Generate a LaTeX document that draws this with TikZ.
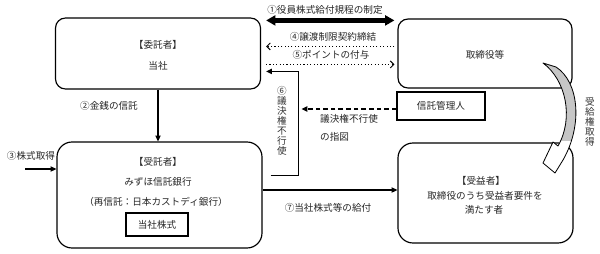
\documentclass[tikz,border=0pt]{standalone}
\usepackage{fontspec}
\setmainfont{Noto Sans CJK JP}
\usetikzlibrary{arrows.meta,calc}
\begin{document}
\begin{tikzpicture}[x=0.03cm,y=-0.03cm,
  box/.style={draw, line width=1pt, rounded corners=0.3cm, inner sep=0},
  sqbox/.style={draw, line width=1pt, inner sep=0},
  txt/.style={font=\fontsize{8.2}{9.5}\selectfont, text=black!85, inner sep=0},
  vtxt/.style={font=\fontsize{8.2}{8.6}\selectfont, text=black!80, inner sep=0, align=center},
  conn/.style={line width=1pt},
  filltip/.style={-{Triangle[length=5pt,width=4.5pt]}},
  opentip/.style={-{Straight Barb[length=3pt,width=6pt,line width=0.8pt]}}
]
\useasboundingbox (0,0) rectangle (600,253);

% boxes
\node[box, minimum width=205*0.03cm, minimum height=71*0.03cm] (wt) at (158,53.5) {};
\node[box, minimum width=174*0.03cm, minimum height=69*0.03cm] (tr) at (485,53.5) {};
\node[sqbox, minimum width=88*0.03cm, minimum height=28*0.03cm] (sk) at (441,106) {};
\node[box, rounded corners=0.45cm, minimum width=205*0.03cm, minimum height=106*0.03cm] (ts) at (159.5,195) {};
\node[box, rounded corners=0.45cm, minimum width=175*0.03cm, minimum height=100*0.03cm] (ju) at (485.5,193) {};
\node[sqbox, minimum width=62*0.03cm, minimum height=23*0.03cm] (kb) at (157,224.5) {};

% box texts
\node[txt] (wt1) at (158,45) {【委託者】};
\node[txt] (wt2) at (158,65.5) {当社};
\node[txt] (tr1) at (485,55) {取締役等};
\node[txt] (sk1) at (441,106) {信託管理人};
\node[txt] (ts1) at (158,162) {【受託者】};
\node[txt] (ts2) at (158,182) {みずほ信託銀行};
\node[txt] (ts3) at (156,202) {（再信託：日本カストディ銀行）};
\node[txt] (kb1) at (157,224.5) {当社株式};
\node[txt] (ju1) at (481,181) {【受益者】};
\node[txt] (ju2) at (485,195.5) {取締役のうち受益者要件を};
\node[txt] (ju3) at (484,210) {満たす者};

% labels
\node[txt] (l1) at (325,10) {①役員株式給付規程の制定};
\node[txt] (l4) at (333,37) {④譲渡制限契約締結};
\node[txt] (l5) at (331,55) {⑤ポイントの付与};
\node[txt] (l2) at (109,106) {②金銭の信託};
\node[txt] (l3) at (31,156) {③株式取得};
\node[txt] (l7) at (328,208) {⑦当社株式等の給付};
\node[txt, anchor=west] (l8a) at (320,119) {議決権不行使};
\node[txt, anchor=west] (l8b) at (320,137) {の指図};
\node[vtxt, anchor=north] (l6) at (282,86) {⑥\\議\\決\\権\\不\\行\\使};
\node[vtxt, anchor=north] (l9) at (590,97) {受\\給\\権\\取\\得};

% connectors
\draw[line width=3.6pt, {Triangle[length=8pt,width=8.5pt]}-{Triangle[length=8pt,width=8.5pt]}]
  ([shift={(5,3)}]wt.north east) -- ([shift={(-3,2)}]tr.north west);
\draw[conn, line width=0.9pt, dotted, opentip]
  ([shift={(-3,28)}]tr.north west) -- ([shift={(5,29)}]wt.north east);
\draw[conn, line width=0.9pt, dotted, opentip]
  ([shift={(5,47)}]wt.north east) -- ([shift={(-3,46)}]tr.north west);
\draw[conn, filltip]
  ([shift={(8,34)}]ts.north east) -- ++(28,0) |- ([shift={(5,54)}]wt.north east);
\draw[conn, dashed, dash pattern=on 4pt off 2.5pt, filltip]
  ([yshift=-3*0.03cm]sk.west) -- ++(-95,0);
\draw[conn, filltip] (wt.south) -- (wt.south |- ts.north);
\coordinate (s3) at (25,169);
\draw[conn, filltip] (s3) -- (ts.west |- s3);
\coordinate (s7) at (263,190);
\draw[conn, filltip] (s7) -- (ju.west |- s7);

% curved block arrow
\def\curvearrow{(543,63) .. controls (566,80) and (574,118) .. (558,146)
  -- (553,142) -- (543,163) -- (555,173) -- (563,160)
  .. controls (583,125) and (579,82) .. (556,67) -- cycle}
\fill[white] \curvearrow;
\begin{scope}
  \clip (530,50) rectangle (600,140);
  \fill[gray!45] \curvearrow;
\end{scope}
\draw[black, line width=0.7pt, line join=round] \curvearrow;
\end{tikzpicture}
\end{document}
